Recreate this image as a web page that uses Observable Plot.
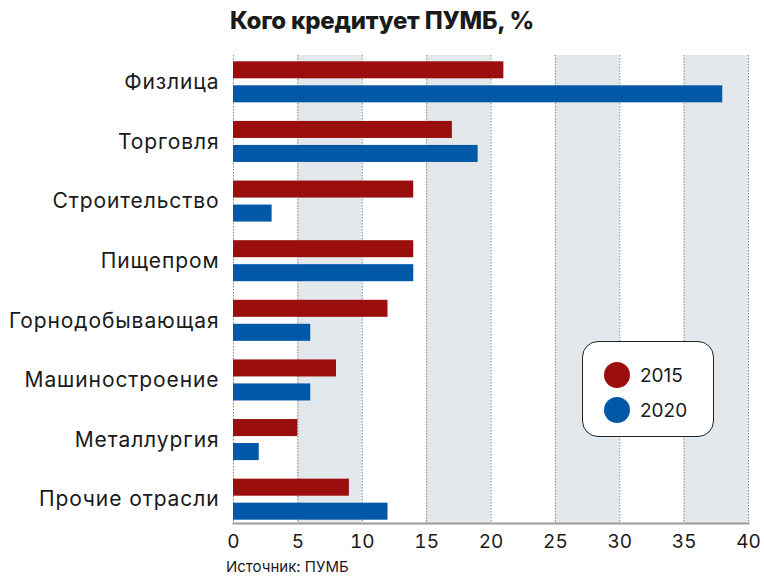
<!DOCTYPE html>
<html>
<head>
<meta charset="utf-8">
<script src="https://cdn.jsdelivr.net/npm/d3@7"></script>
<script src="https://cdn.jsdelivr.net/npm/@observablehq/plot@0.6"></script>
<style>
  html, body { margin: 0; padding: 0; background: #fff; }
  #wrap { position: relative; width: 764px; height: 581px; font-family: Inter, "Open Sans", sans-serif; color: #1a1a1a; }
  #title { position: absolute; left: 0; width: 764px; top: 6px; text-align: center; font-size: 24px; font-weight: 800; letter-spacing: -0.2px; box-sizing: border-box; }
  #chart { position: absolute; left: 0; top: 44px; }
  #caption { position: absolute; left: 226px; top: 557px; font-size: 15px; }
  #legend { position: absolute; left: 582px; top: 341px; width: 132px; height: 96px; box-sizing: border-box; border: 1.5px solid #222; border-radius: 16px; background: #fff; }
  .item { position: absolute; left: 21px; display: flex; align-items: center; font-size: 19px; }
  .dot { width: 26px; height: 26px; border-radius: 50%; margin-right: 10px; }
</style>
</head>
<body>
<div id="wrap">
  <div id="title">Кого кредитует ПУМБ, %</div>
  <div id="chart"></div>
  <div id="legend"></div>
  <div id="caption">Источник: ПУМБ</div>
</div>
<script>
const categories = ["Физлица", "Торговля", "Строительство", "Пищепром", "Горнодобывающая", "Машиностроение", "Металлургия", "Прочие отрасли"];
const values2015 = [21, 17, 14, 14, 12, 8, 5, 9];
const values2020 = [38, 19, 3, 14, 6, 6, 2, 12];
const years = ["2015", "2020"];
const colors = ["#9a0e0e", "#0058a6"];
const xTicks = [0, 5, 10, 15, 20, 25, 30, 35, 40];
const bandStarts = [5, 15, 25, 35];

const d2015 = categories.map((c, i) => ({category: c, value: values2015[i]}));
const d2020 = categories.map((c, i) => ({category: c, value: values2020[i]}));

const chart = Plot.plot({
  width: 764,
  height: 512,
  marginTop: 11,
  marginBottom: 33,
  marginLeft: 233,
  marginRight: 16,
  style: {fontFamily: "Inter, 'Open Sans', sans-serif", fontSize: "18px", color: "#1a1a1a", background: "transparent"},
  x: {domain: [0, 40], label: null},
  y: {domain: categories, range: [8, 485], padding: 0, round: false, label: null},
  marks: [
    Plot.rectX(bandStarts, {x1: d => d, x2: d => d + 5, fill: "#e3e8ec"}),
    Plot.ruleX(xTicks, {stroke: "#888", strokeWidth: 1, strokeDasharray: "1.5,1.5"}),
    Plot.barX(d2015, {y: "category", x: "value", fill: colors[0], insetTop: 21.3, insetBottom: 21.3, dy: -12}),
    Plot.barX(d2020, {y: "category", x: "value", fill: colors[1], insetTop: 21.3, insetBottom: 21.3, dy: 12}),
    Plot.frame({anchor: "bottom", stroke: "#9a9a9a", strokeWidth: 2}),
    Plot.axisX({ticks: xTicks, tickSize: 0, tickPadding: 11, fontSize: 19, label: null}),
    Plot.axisY({tickSize: 0, tickPadding: 14, fontSize: 21, label: null})
  ]
});
d3.select(chart).selectAll('[aria-label="y-axis tick label"] text').style("letter-spacing", "0.9px");
document.getElementById("chart").appendChild(chart);

const legend = document.getElementById("legend");
years.forEach((y, i) => {
  const item = document.createElement("div");
  item.className = "item";
  item.style.top = (20 + i * 35) + "px";
  item.innerHTML = `<span class="dot" style="background:${colors[i]}"></span><span>${y}</span>`;
  legend.appendChild(item);
});
</script>
</body>
</html>
